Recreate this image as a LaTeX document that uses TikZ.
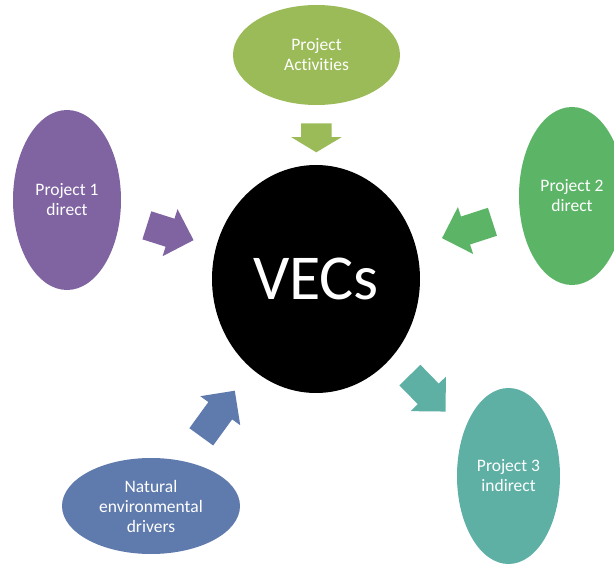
\documentclass[tikz,border=0pt]{standalone}
\usepackage{fontspec}
\setmainfont{Carlito}[RawFeature={-liga;-clig;-calt}]
\usepackage{xcolor}
\usetikzlibrary{shapes,arrows,positioning,calc}

\definecolor{actgreen}{HTML}{9BBB59}
\definecolor{oneviolet}{HTML}{8064A2}
\definecolor{twogreen}{HTML}{5CB566}
\definecolor{threeteal}{HTML}{5EB0A5}
\definecolor{natblue}{HTML}{5F7AAC}

\tikzset{
  blob/.style={ellipse, text=white, align=center, inner sep=0pt,
    font=\fontsize{17.5pt}{20pt}\selectfont},
  bigarrow/.style={single arrow, inner xsep=0pt, inner ysep=14.5pt,
    single arrow head extend=10pt, single arrow tip angle=90,
    single arrow head indent=0pt, sloped, allow upside down,
    anchor=tail, minimum height=#1},
  bigarrow/.default=52pt
}

\begin{document}
\begin{tikzpicture}[x=1pt,y=-1pt]
% VECs and what acts on them
\clip (0,0) rectangle (614,564);

\node[blob, fill=black, minimum width=208pt, minimum height=228pt,
  font=\fontsize{64pt}{70pt}\selectfont] (vec) at (316,279) {VECs};

\node[blob, fill=actgreen, minimum width=167pt, minimum height=100pt] (act) at (316.5,55) {Project\\Activi\kern0pt ties};
\node[blob, fill=oneviolet, minimum width=108pt, minimum height=180pt] (one) at (67,200) {Project 1\\direct};
\node[blob, fill=twogreen, minimum width=106pt, minimum height=178pt] (two) at (572,196) {Project 2\\direct};
\node[blob, fill=threeteal, minimum width=103pt, minimum height=176pt] (three) at (508.5,476) {Project 3\\indirect};
\node[blob, fill=natblue, minimum width=178pt, minimum height=96pt] (nat) at (151,506) {Natural\\environmental\\drivers};

% block arrows
\path (act.center) -- (vec.center) node[bigarrow=29pt, single arrow tip angle=118, inner ysep=15pt, fill=actgreen, pos=0.304] {};
\path (one.center) -- (vec.center) node[bigarrow=49pt, fill=oneviolet, pos=0.32] {};
\path (two.center) -- (vec.center) node[bigarrow=53pt, fill=twogreen, pos=0.31] {};
\path (nat.center) -- (vec.center) node[bigarrow=57pt, fill=natblue, pos=0.304] {};
\path (vec.center) -- (three.center) node[bigarrow=51pt, fill=threeteal, pos=0.487] {};
\end{tikzpicture}
\end{document}
